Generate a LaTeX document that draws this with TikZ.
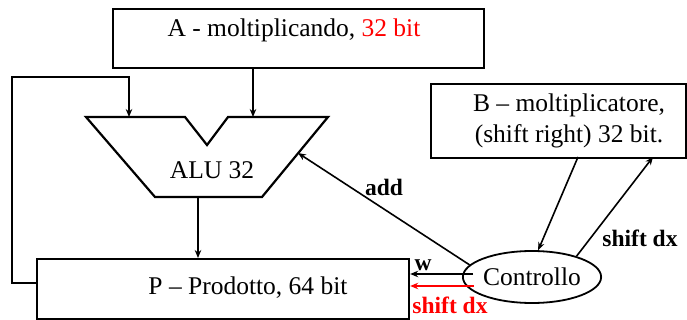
\documentclass[tikz,border=0pt]{standalone}
\usepackage{fontspec}
\setmainfont{Liberation Serif}
\usetikzlibrary{arrows.meta,shapes.geometric,calc}
\begin{document}
\begin{tikzpicture}[x=1pt,y=-1pt,
 line width=1.6pt,
 arr/.style={-{Stealth[length=8pt,width=6.5pt]}, line width=1.6pt},
 box/.style={draw, line width=2.2pt, inner sep=0pt, anchor=north west},
 txt/.style={font=\fontsize{25.5}{31}\selectfont, inner sep=0pt},
 lbl/.style={font=\fontsize{23.5}{26}\selectfont\bfseries, inner sep=0pt}]
\useasboundingbox (0,0) rectangle (687,320);

% A box
\node[box, minimum width=371pt, minimum height=59pt] (A) at (112,8) {};
\node[txt] (At) at (294,30) {A - moltiplicando, \textcolor{red}{32 bit}};

% ALU
\draw[line width=2.2pt, line join=miter] (86,117) -- (185,117) -- (207,145) -- (228,117) -- (328,117) -- (262,197) -- (155,197) -- cycle;
\node[txt] (alu) at (212,170) {ALU 32};
\coordinate (aluInL) at (129,117);
\coordinate (aluInR) at (253,117);
\coordinate (aluOut) at (198,197);
\coordinate (aluR) at (298,153);

% P box
\node[box, minimum width=372pt, minimum height=60pt] (P) at (36,258) {};
\node[txt] (Pt) at (248,288) {P – Prodotto, 64 bit};

% B box
\node[box, minimum width=255pt, minimum height=74pt] (B) at (430,83) {};
\node[txt, align=center] (Bt) at (569,121) {B – moltiplicatore,\\(shift right) 32 bit.};

% Controllo
\node[draw, ellipse, line width=1.8pt, minimum width=119pt, minimum height=52pt, inner sep=0pt, txt] (C) at (532,277) {Controllo};

% connectors
\draw[arr] (A.south -| aluInR) -- (aluInR);
\coordinate (fb) at (36,283);
\draw[arr] (fb) -- (12,283) -- (12,77) -- (129,77) -- (aluInL);
\draw[arr] (aluOut) -- (P.north -| aluOut);
\draw[arr] (C.169) -- (aluR);
\coordinate (b1) at (578,157);
\coordinate (b2) at (653,157);
\draw[arr] (b1) -- (C.77);
\draw[arr] (C.25) -- (b2);
\coordinate (w1) at (473,274);
\coordinate (s1) at (474,286);
\draw[arr] (w1) -- (P.east |- w1);
\draw[arr, red] (s1) -- (P.east |- s1);

% labels
\node[lbl] (ladd) at (384,187) {add};
\node[lbl] (lsh) at (640,238) {shift dx};
\node[lbl] (lw) at (423,265) {w};
\node[lbl, text=red] (lshr) at (450,305) {shift dx};
\end{tikzpicture}
\end{document}
